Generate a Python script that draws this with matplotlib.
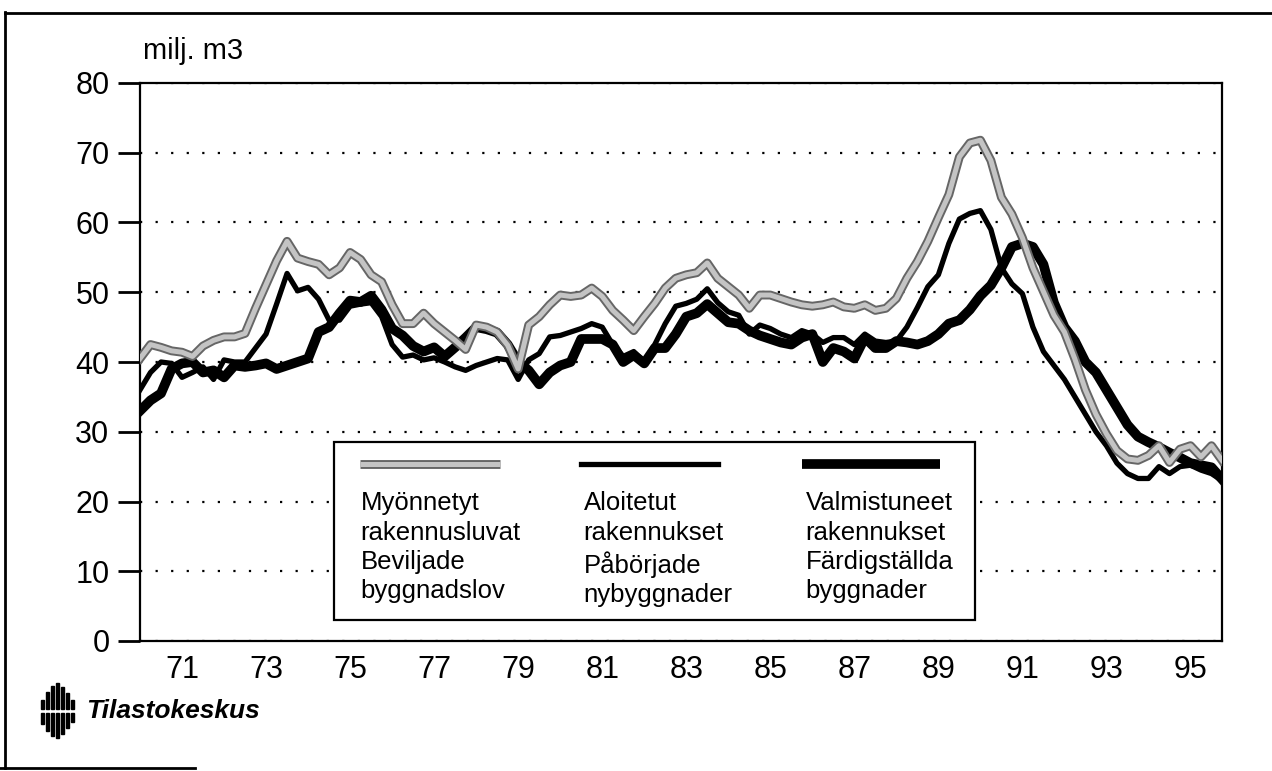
import matplotlib.pyplot as plt
import numpy as np
from matplotlib.patches import Rectangle
from matplotlib.lines import Line2D

plt.rcParams['font.family'] = ['Liberation Sans', 'DejaVu Sans']

# quarterly data 1970Q1 .. 1995Q4, milj. m3 (4 quarter moving sums)
quarters = 1970 + np.arange(104) / 4

permits = [40.5, 42.5, 42.1, 41.6, 41.4, 40.8, 42.3, 43.1, 43.6, 43.6,
           44.1, 47.7, 51.1, 54.5, 57.3, 54.9, 54.4, 54.0, 52.5, 53.5,
           55.7, 54.7, 52.5, 51.5, 48.2, 45.5, 45.5, 47.0, 45.5, 44.3,
           43.1, 41.8, 45.3, 45.0, 44.3, 42.4, 39.0, 45.3, 46.5, 48.2,
           49.6, 49.4, 49.6, 50.6, 49.4, 47.4, 46.0, 44.5, 46.5, 48.4,
           50.6, 52.0, 52.5, 52.8, 54.2, 52.0, 50.8, 49.6, 47.7, 49.6,
           49.6, 49.1, 48.6, 48.2, 48.0, 48.2, 48.6, 47.9, 47.7, 48.2,
           47.4, 47.7, 49.1, 52.0, 54.4, 57.3, 60.7, 64.0, 69.4, 71.4,
           71.8, 68.9, 63.6, 61.2, 57.8, 53.5, 50.1, 46.7, 44.3, 40.4,
           36.0, 32.5, 29.7, 27.3, 26.1, 25.9, 26.6, 28.0, 25.6, 27.5,
           28.0, 26.4, 28.0, 25.9]

started = [36.0, 38.5, 40.0, 39.8, 37.8, 38.5, 39.3, 37.5, 40.3, 40.0,
           40.0, 42.0, 44.0, 48.3, 52.7, 50.2, 50.7, 49.0, 46.0, 46.0,
           48.0, 48.3, 48.5, 46.5, 42.5, 40.7, 41.0, 40.3, 40.6, 40.0,
           39.3, 38.8, 39.5, 40.0, 40.5, 40.3, 37.5, 40.3, 41.2, 43.6,
           43.8, 44.3, 44.8, 45.5, 45.0, 42.5, 40.8, 41.5, 40.0, 42.5,
           45.5, 48.0, 48.4, 49.0, 50.5, 48.5, 47.2, 46.7, 44.0, 45.3,
           44.8, 44.0, 43.5, 44.5, 44.0, 42.8, 43.5, 43.5, 42.5, 44.0,
           43.0, 42.8, 43.0, 45.0, 47.8, 50.8, 52.5, 57.0, 60.5, 61.3,
           61.7, 59.0, 53.5, 51.2, 49.8, 45.0, 41.5, 39.5, 37.5, 35.0,
           32.5, 30.0, 28.0, 25.5, 24.0, 23.3, 23.3, 25.0, 24.0, 25.0,
           25.2, 24.5, 24.0, 23.0]

completed = [33.0, 34.5, 35.5, 39.0, 39.8, 40.0, 38.5, 38.8, 37.8, 39.5,
             39.3, 39.5, 39.8, 39.0, 39.5, 40.0, 40.5, 44.3, 45.0, 47.0,
             48.8, 48.6, 49.5, 47.5, 44.8, 43.8, 42.3, 41.5, 42.1, 40.8,
             42.1, 43.5, 45.0, 44.7, 44.2, 42.5, 40.0, 38.8, 36.8, 38.5,
             39.5, 40.0, 43.3, 43.3, 43.3, 42.5, 40.0, 41.0, 39.8, 42.0,
             42.0, 44.0, 46.5, 47.0, 48.3, 47.0, 45.7, 45.5, 44.5, 43.8,
             43.3, 42.8, 42.5, 43.5, 44.0, 40.0, 42.0, 41.5, 40.5, 43.5,
             42.0, 42.0, 43.0, 42.8, 42.5, 43.0, 44.0, 45.5, 46.0, 47.5,
             49.5, 51.0, 53.5, 56.5, 57.0, 56.5, 54.0, 48.5, 45.0, 43.0,
             40.0, 38.5, 36.0, 33.5, 31.0, 29.3, 28.5, 27.8, 27.0, 26.3,
             25.5, 25.2, 24.9, 23.2]

tick_years = list(range(1971, 1996, 2))
tick_labels = ['%02d' % (y % 100) for y in tick_years]
y_ticks = [0, 10, 20, 30, 40, 50, 60, 70, 80]

label_permits = 'Myönnetyt\nrakennusluvat\nBeviljade\nbyggnadslov'
label_started = 'Aloitetut\nrakennukset\nPåbörjade\nnybyggnader'
label_completed = 'Valmistuneet\nrakennukset\nFärdigställda\nbyggnader'

W, H = 1272, 771
fig = plt.figure(figsize=(W / 100, H / 100), dpi=100)
ax = fig.add_axes([140 / W, 1 - 641 / H, 1082 / W, 558 / H])

ax.plot(quarters, completed, color='black', lw=7.0, zorder=3)
ax.plot(quarters, started, color='black', lw=3.8, zorder=4)
ax.plot(quarters, permits, color='#666666', lw=6.4, zorder=5)
ax.plot(quarters, permits, color='#c4c4c4', lw=3.6, zorder=6)

ax.set_xlim(quarters[0], quarters[-1])
ax.set_ylim(0, 80)
ax.set_yticks(y_ticks)
ax.set_xticks(tick_years)
ax.set_xticklabels(tick_labels)
ax.yaxis.grid(True, linestyle=(0, (1, 6)), lw=1.6, color='black')
ax.set_axisbelow(True)
ax.tick_params(axis='y', length=16, width=2, direction='out', pad=6,
               labelsize=22)
ax.tick_params(axis='x', length=0, pad=10, labelsize=22)
for s in ax.spines.values():
    s.set_linewidth(1.6)

# legend box
ax.add_patch(Rectangle((0.179, 0.038), 0.593, 0.319, transform=ax.transAxes,
                       facecolor='white', edgecolor='black', lw=1.6,
                       zorder=10))
ly = 0.317
ax.add_line(Line2D([0.203, 0.333], [ly, ly], transform=ax.transAxes,
                   color='#666666', lw=6.4, solid_capstyle='butt', zorder=11))
ax.add_line(Line2D([0.203, 0.333], [ly, ly], transform=ax.transAxes,
                   color='#c4c4c4', lw=3.6, solid_capstyle='butt', zorder=12))
ax.add_line(Line2D([0.408, 0.534], [ly, ly], transform=ax.transAxes,
                   color='black', lw=3.8, zorder=11))
ax.add_line(Line2D([0.612, 0.739], [ly, ly], transform=ax.transAxes,
                   color='black', lw=7.0, solid_capstyle='butt', zorder=11))
for xt, txt in [(0.204, label_permits), (0.410, label_started),
                (0.615, label_completed)]:
    ax.text(xt, 0.268, txt, transform=ax.transAxes, fontsize=18.5,
            va='top', ha='left', linespacing=1.28, zorder=12)

fig.text(143 / W, 1 - 51 / H, 'milj. m3', fontsize=21, va='center')

# Tilastokeskus logo
bar_x = [41, 46, 51, 56, 61, 66, 71]
bar_top = [700, 692, 686, 683, 687, 693, 700]
bar_bot = [724, 731, 736, 738, 734, 728, 722]
for bx, bt, bb in zip(bar_x, bar_top, bar_bot):
    fig.add_artist(Rectangle((bx / W, 1 - 709 / H), 3 / W, (709 - bt) / H,
                             transform=fig.transFigure, color='black'))
    fig.add_artist(Rectangle((bx / W, 1 - bb / H), 3 / W, (bb - 713) / H,
                             transform=fig.transFigure, color='black'))
fig.text(86 / W, 1 - 711 / H, 'Tilastokeskus', fontsize=19, style='italic',
         weight='bold', va='center')

# outer frame
fig.add_artist(Line2D([5 / W, 5 / W], [1 - 12 / H, 1 - 768 / H],
                      transform=fig.transFigure, color='black', lw=2))
fig.add_artist(Line2D([5 / W, 1], [1 - 13 / H, 1 - 13 / H],
                      transform=fig.transFigure, color='black', lw=2))
fig.add_artist(Line2D([0, 195 / W], [1 - 768 / H, 1 - 768 / H],
                      transform=fig.transFigure, color='black', lw=2))

fig.savefig('out.png', dpi=100, facecolor='white')
